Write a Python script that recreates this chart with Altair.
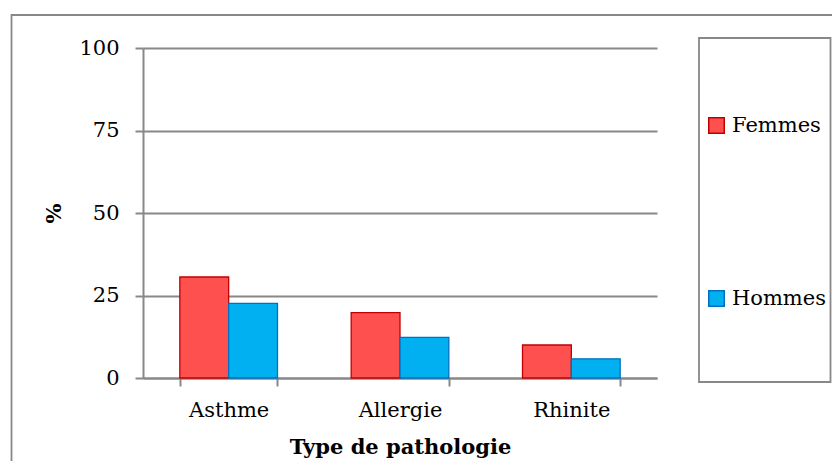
import altair as alt
import pandas as pd

pathologies = ["Asthme", "Allergie", "Rhinite"]
femmes = [30.6, 19.8, 10.0]
hommes = [22.6, 12.3, 5.8]
series = ["Femmes", "Hommes"]
fills = ["#FF5050", "#00B0F0"]
strokes = ["#C00000", "#0070C0"]
y_ticks = [0, 25, 50, 75, 100]

rows = []
for p, f, h in zip(pathologies, femmes, hommes):
    rows.append({"Pathologie": p, "Sexe": "Femmes", "Valeur": f})
    rows.append({"Pathologie": p, "Sexe": "Hommes", "Valeur": h})
df = pd.DataFrame(rows)

FONT = "DejaVu Serif"
GRAY = "#888888"

leg = dict(title=None, orient="none", legendX=563, legendY=67,
           symbolType="square", symbolSize=240, symbolStrokeWidth=1.5,
           labelFont=FONT, labelFontSize=21, labelColor="black",
           labelOffset=5, rowPadding=150, padding=0)

bars = alt.Chart(df).mark_bar(strokeWidth=1.3).encode(
    x=alt.X("Pathologie:N", sort=pathologies,
            scale=alt.Scale(paddingInner=0.43, paddingOuter=0.215),
            axis=alt.Axis(title="Type de pathologie", labelAngle=0, tickBand="extent",
                          tickSize=8, tickWidth=2, tickColor=GRAY,
                          domainColor=GRAY, domainWidth=2,
                          labelFont=FONT, labelFontSize=21, labelColor="black",
                          labelPadding=13, titleFont=FONT, titleFontSize=21,
                          titleFontWeight="bold", titleColor="black", titlePadding=16)),
    xOffset=alt.XOffset("Sexe:N", sort=series, scale=alt.Scale(paddingInner=0, paddingOuter=0)),
    y=alt.Y("Valeur:Q", scale=alt.Scale(domain=[0, 100], nice=False),
            axis=alt.Axis(title="%", values=y_ticks, grid=True, gridColor=GRAY, gridWidth=2,
                          tickSize=8, tickWidth=2, tickColor=GRAY,
                          domainColor=GRAY, domainWidth=2,
                          labelFont=FONT, labelFontSize=21, labelColor="black",
                          labelPadding=16, titleFont=FONT, titleFontSize=21,
                          titleFontWeight="bold", titleColor="black", titlePadding=14)),
    color=alt.Color("Sexe:N", sort=series,
                    scale=alt.Scale(domain=series, range=fills),
                    legend=alt.Legend(**leg)),
    stroke=alt.Stroke("Sexe:N", sort=series,
                      scale=alt.Scale(domain=series, range=strokes),
                      legend=alt.Legend(**leg)),
)

frame_df = pd.DataFrame({"k": [0]})
outer = alt.Chart(frame_df).mark_rect(fill="transparent", stroke=GRAY, strokeWidth=1.8).encode(
    x=alt.value(-131.5), x2=alt.value(1000), y=alt.value(-33), y2=alt.value(700))
legend_box = alt.Chart(frame_df).mark_rect(fill="white", stroke=GRAY, strokeWidth=1.8).encode(
    x=alt.value(556), x2=alt.value(687.5), y=alt.value(-10), y2=alt.value(334))

chart = alt.layer(outer, legend_box, bars).properties(
    width=514, height=330,
    autosize=alt.AutoSizeParams(type="none"),
    padding={"left": 135, "top": 40, "right": 175, "bottom": 83},
    background="white",
).configure_view(stroke=None)

chart.save("out.html", embed_options={"renderer": "svg", "actions": False})
